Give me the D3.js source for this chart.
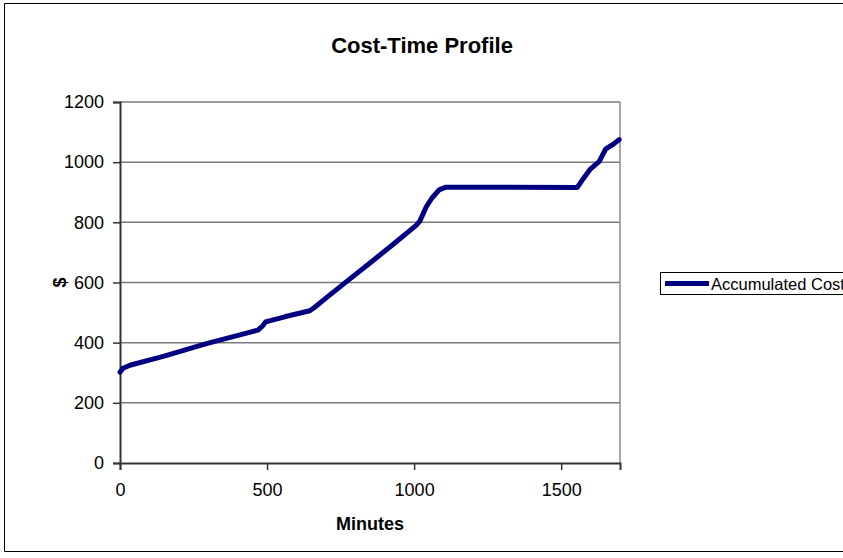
<!DOCTYPE html>
<html>
<head>
<meta charset="utf-8">
<script src="https://cdn.jsdelivr.net/npm/d3@7"></script>
<style>
  html, body { margin: 0; padding: 0; background: #fff; }
  svg { display: block; font-family: "Liberation Sans", Arial, sans-serif; }
</style>
</head>
<body>
<svg id="chart" width="843" height="558"></svg>
<script>
// Accumulated cost over elapsed minutes
const minutes = [0, 10, 34, 150, 294, 440, 469, 485, 495, 560, 645, 660, 700, 769, 850, 930, 1007, 1020, 1041, 1060, 1085, 1108, 1555, 1575, 1600, 1629, 1651, 1675, 1697];
const cost    = [302, 315, 325, 355, 397, 434, 442, 456, 469, 486, 506, 516, 548, 602, 665, 728, 790, 805, 851, 880, 908, 917, 916, 945, 978, 1002, 1043, 1058, 1075];

const xTicks = [0, 500, 1000, 1500];
const yTicks = [0, 200, 400, 600, 800, 1000, 1200];
const seriesName = "Accumulated Cost";

const data = minutes.map((m, i) => ({ m, c: cost[i] }));

const svg = d3.select("#chart");
const plot = { left: 120, right: 620, top: 102, bottom: 463 };

const x = d3.scaleLinear().domain([0, 1700]).range([plot.left, plot.right]);
const y = d3.scaleLinear().domain([0, 1200]).range([plot.bottom, plot.top]);

// chart frame
svg.append("path")
  .attr("d", `M850,3.5H4.5V551.5H850`)
  .attr("fill", "none").attr("stroke", "#000").attr("stroke-width", 1);

// title
svg.append("text")
  .attr("x", 422).attr("y", 53)
  .attr("text-anchor", "middle")
  .attr("font-size", 22).attr("font-weight", "bold")
  .text("Cost-Time Profile");

// horizontal gridlines
svg.append("g").selectAll("line")
  .data(yTicks.filter(d => d > 0))
  .join("line")
  .attr("x1", plot.left).attr("x2", plot.right)
  .attr("y1", d => y(d)).attr("y2", d => y(d))
  .attr("stroke", "#7a7a7a").attr("stroke-width", 1.5);

// right border of plot area
svg.append("line")
  .attr("x1", plot.right).attr("x2", plot.right)
  .attr("y1", plot.top).attr("y2", plot.bottom)
  .attr("stroke", "#8a8a8a").attr("stroke-width", 1.5);

// y axis
const yAxis = svg.append("g")
  .attr("transform", `translate(${plot.left},0)`)
  .call(d3.axisLeft(y).tickValues(yTicks).tickSize(7).tickPadding(9).tickFormat(d3.format("d")));
yAxis.select(".domain").attr("stroke", "#333").attr("stroke-width", 2);
yAxis.selectAll(".tick line").attr("stroke", "#333").attr("stroke-width", 1.5);
yAxis.selectAll(".tick text").attr("font-size", 18).attr("fill", "#000")
  .attr("font-family", "Liberation Sans, Arial, sans-serif");

// x axis
const xAxis = svg.append("g")
  .attr("transform", `translate(0,${plot.bottom})`)
  .call(d3.axisBottom(x).tickValues(xTicks).tickSize(7).tickPadding(13).tickFormat(d3.format("d")));
xAxis.select(".domain").attr("stroke", "#333").attr("stroke-width", 2);
xAxis.selectAll(".tick line").attr("stroke", "#333").attr("stroke-width", 1.5);
xAxis.selectAll(".tick text").attr("font-size", 18).attr("fill", "#000")
  .attr("font-family", "Liberation Sans, Arial, sans-serif");

// axis titles
svg.append("text")
  .attr("x", (plot.left + plot.right) / 2).attr("y", 530)
  .attr("text-anchor", "middle")
  .attr("font-size", 18).attr("font-weight", "bold")
  .text("Minutes");

svg.append("text")
  .attr("transform", `translate(66,${(plot.top + plot.bottom) / 2}) rotate(-90)`)
  .attr("text-anchor", "middle")
  .attr("font-size", 18).attr("font-weight", "bold")
  .text("$");

// series line
svg.append("path")
  .datum(data)
  .attr("fill", "none")
  .attr("stroke", "#000080")
  .attr("stroke-width", 5)
  .attr("stroke-linejoin", "round")
  .attr("stroke-linecap", "round")
  .attr("d", d3.line().x(d => x(d.m)).y(d => y(d.c)));

// legend
const lg = svg.append("g").attr("transform", "translate(660,272)");
lg.append("rect")
  .attr("x", 0.5).attr("y", 0.5).attr("width", 200).attr("height", 22)
  .attr("fill", "#fff").attr("stroke", "#000").attr("stroke-width", 1);
lg.append("line")
  .attr("x1", 5).attr("x2", 49).attr("y1", 11.5).attr("y2", 11.5)
  .attr("stroke", "#000080").attr("stroke-width", 5);
lg.append("text")
  .attr("x", 51).attr("y", 17.5)
  .attr("font-size", 16.5)
  .text(seriesName);
</script>
</body>
</html>
